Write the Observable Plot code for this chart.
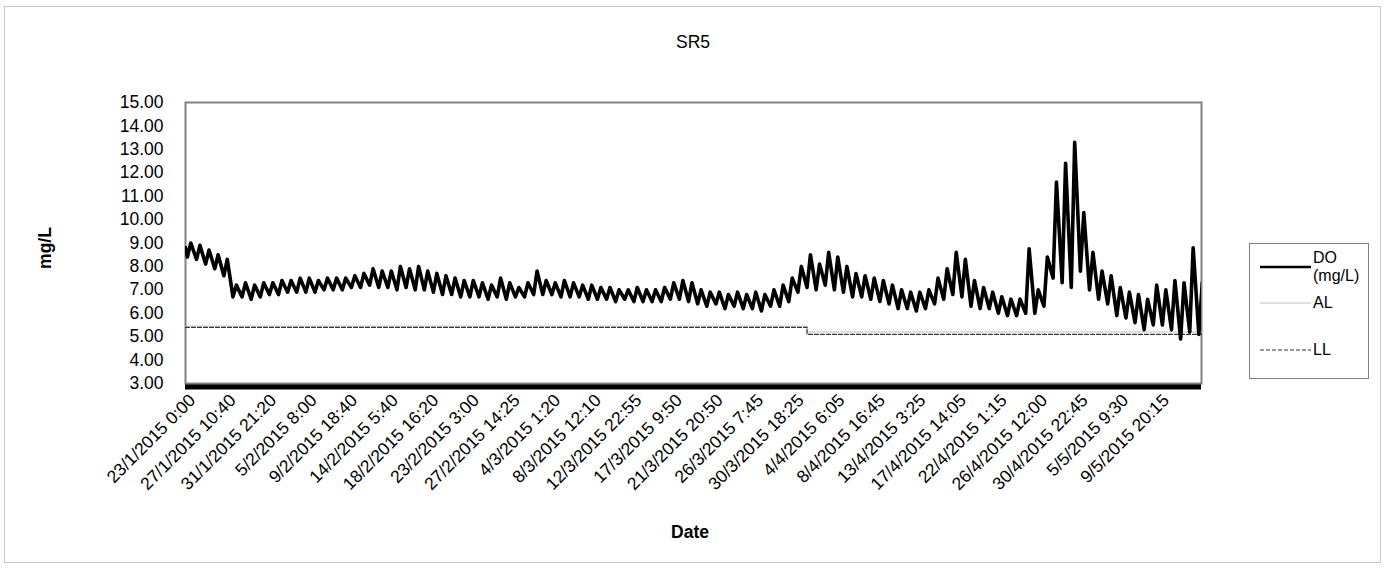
<!DOCTYPE html>
<html>
<head>
<meta charset="utf-8">
<script src="https://cdn.jsdelivr.net/npm/d3@7"></script>
<script src="https://cdn.jsdelivr.net/npm/@observablehq/plot@0.6"></script>
<style>
  body { margin: 0; background: #fff; font-family: "Liberation Sans", Arial, sans-serif; }
  #wrap { position: relative; width: 1386px; height: 569px; overflow: hidden; background: #fff; }
  #outer { position: absolute; left: 4px; top: 6px; width: 1377px; height: 557px; border: 1px solid #c8c8c8; box-sizing: border-box; }
  #chart { position: absolute; left: 0; top: 0; }
  .txt { position: absolute; white-space: nowrap; color: #000; font-size: 17.5px; }
  #title { left: 693px; top: 42px; transform: translate(-50%, -50%); }
  #xlab { left: 690px; top: 532px; transform: translate(-50%, -50%); font-weight: bold; }
  #ylab { left: 45px; top: 248px; transform: translate(-50%, -50%) rotate(-90deg); font-weight: bold; }
  #legend { position: absolute; left: 1249px; top: 243px; width: 120px; height: 136px; border: 1px solid #808080; box-sizing: border-box; background: #fff; }
  #legend svg { position: absolute; left: 0; top: 0; }
  #legend .txt { font-size: 16px; }
</style>
</head>
<body>
<div id="wrap">
  <div id="outer"></div>
  <div id="chart"></div>
  <div class="txt" id="title">SR5</div>
  <div class="txt" id="xlab">Date</div>
  <div class="txt" id="ylab">mg/L</div>
  <div id="legend"></div>
</div>
<script>
// ---- Data ----
const seriesTitle = "SR5";
const startDay = "2015-01-23";
const endTime = "2015-05-14T12:00:00Z";

// Daily high and low dissolved oxygen (mg/L), one entry per day from 23/1/2015
const dailyHigh = [
  9.0, 8.9, 8.7, 8.5, 8.3,
  7.2, 7.3, 7.2, 7.3, 7.3, 7.4,
  7.4, 7.5, 7.5, 7.4, 7.5, 7.5, 7.5,
  7.6, 7.7, 7.9, 7.8,
  7.8, 8.0, 7.9, 8.0, 7.8,
  7.7, 7.6, 7.5, 7.4, 7.4,
  7.3, 7.2, 7.5,
  7.3, 7.1, 7.3,
  7.8,
  7.4, 7.3, 7.4, 7.3, 7.2, 7.2, 7.1,
  7.1, 7.0, 7.0, 7.1, 7.0, 7.0, 7.1,
  7.3, 7.4, 7.3,
  7.0, 6.9, 6.9, 6.8, 6.9, 6.8, 6.9, 6.8,
  7.0, 7.2, 7.5,
  8.0, 8.5, 8.1, 8.6,
  8.4, 8.0,
  7.7, 7.6, 7.5, 7.4, 7.2,
  7.0, 6.9, 6.9, 7.0,
  7.5, 7.9,
  8.6, 8.3,
  7.4, 7.1, 6.9,
  6.7, 6.6, 6.6,
  8.75, 7.0, 8.4, 11.6, 12.4, 13.3, 10.3, 8.6,
  7.8, 7.6,
  7.1, 6.9, 6.8, 6.6,
  7.2, 7.0, 7.4, 7.3,
  8.8, 7.3
];
const dailyLow = [
  8.4, 8.3, 8.1, 7.9, 7.6,
  6.7, 6.7, 6.6, 6.7, 6.8, 6.8,
  6.9, 6.9, 6.9, 6.9, 7.0, 7.0, 7.0,
  7.1, 7.1, 7.2, 7.1,
  7.1, 7.0, 7.1, 7.0, 7.0,
  6.9, 6.8, 6.8, 6.7, 6.7,
  6.7, 6.6, 6.7,
  6.6, 6.7, 6.7,
  6.8,
  6.8, 6.8, 6.7, 6.7, 6.7, 6.6, 6.6,
  6.6, 6.5, 6.6, 6.5, 6.5, 6.5, 6.5,
  6.6, 6.6, 6.5,
  6.4, 6.3, 6.4, 6.2, 6.3, 6.2, 6.2, 6.1,
  6.3, 6.3, 6.5,
  6.9, 7.1, 7.0, 7.2,
  7.0, 6.9,
  6.7, 6.7, 6.6, 6.5, 6.4,
  6.2, 6.2, 6.1, 6.2,
  6.4, 6.6,
  6.8, 6.7,
  6.3, 6.2, 6.2,
  6.0, 5.9, 5.9,
  6.0, 6.0, 6.3, 7.5, 7.3, 7.1, 7.8, 7.0,
  6.6, 6.4,
  5.9, 5.8, 5.6, 5.3,
  5.5, 5.5, 5.3, 4.9,
  5.2, 5.1
];

// Guideline levels
const limitTimes = ["2015-01-23T00:00:00Z", "2015-04-01T05:00:00Z", "2015-05-14T12:00:00Z"];
const llValues = [5.4, 5.1, 5.1];
const alValues = [5.45, 5.2, 5.2];

// Axis tick labels
const xTickLabels = [
  "23/1/2015 0:00", "27/1/2015 10:40", "31/1/2015 21:20", "5/2/2015 8:00", "9/2/2015 18:40",
  "14/2/2015 5:40", "18/2/2015 16:20", "23/2/2015 3:00", "27/2/2015 14:25", "4/3/2015 1:20",
  "8/3/2015 12:10", "12/3/2015 22:55", "17/3/2015 9:50", "21/3/2015 20:50", "26/3/2015 7:45",
  "30/3/2015 18:25", "4/4/2015 6:05", "8/4/2015 16:45", "13/4/2015 3:25", "17/4/2015 14:05",
  "22/4/2015 1:15", "26/4/2015 12:00", "30/4/2015 22:45", "5/5/2015 9:30", "9/5/2015 20:15"
];
const yTicks = [3, 4, 5, 6, 7, 8, 9, 10, 11, 12, 13, 14, 15];
const legendLabels = ["DO", "(mg/L)", "AL", "LL"];

// ---- Build tables ----
const start = new Date(startDay + "T00:00:00Z");
const end = new Date(endTime);
const doData = [];
dailyLow.forEach((v, i) => {
  const day = d3.utcDay.offset(start, i);
  doData.push({ date: d3.utcHour.offset(day, 5), value: v });
  doData.push({ date: d3.utcHour.offset(day, 14), value: dailyHigh[i] });
});
doData.unshift({ date: start, value: dailyHigh[0] - 0.2 });

const parse = d3.utcParse("%d/%m/%Y %H:%M");
const xTickDates = xTickLabels.map(parse);
const labelByTime = new Map(xTickDates.map((d, i) => [+d, xTickLabels[i]]));

const ll = limitTimes.map((t, i) => ({ date: new Date(t), value: llValues[i] }));
const al = limitTimes.map((t, i) => ({ date: new Date(t), value: alValues[i] }));

const chart = Plot.plot({
  width: 1386,
  height: 569,
  marginLeft: 185,
  marginRight: 185,
  marginTop: 102,
  marginBottom: 186,
  style: { fontFamily: '"Liberation Sans", Arial, sans-serif', fontSize: "17.5px", color: "#000", background: "transparent", overflow: "visible" },
  x: { type: "utc", domain: [start, end] },
  y: { domain: [3, 15] },
  marks: [
    Plot.ruleY([3], { stroke: "#000", strokeWidth: 6, dy: 3 }),
    Plot.frame({ stroke: "#808080", strokeWidth: 2 }),
    Plot.axisY({ ticks: yTicks, tickFormat: d => d.toFixed(2), tickSize: 0, tickPadding: 22, label: null, fontSize: 17.5 }),
    Plot.axisX({ ticks: xTickDates, tickFormat: d => labelByTime.get(+d), tickRotate: -45, tickSize: 0, tickPadding: 10, dx: 7, dy: 4, label: null, fontSize: 17.5 }),
    Plot.line(al, { x: "date", y: "value", curve: "step-after", stroke: "#c0c0c0", strokeWidth: 1 }),
    Plot.line(ll, { x: "date", y: "value", curve: "step-after", stroke: "#333", strokeWidth: 1.2, strokeDasharray: "4,2" }),
    Plot.line(doData, { x: "date", y: "value", stroke: "#000", strokeWidth: 3.6, strokeLinejoin: "round", clip: true })
  ]
});
document.getElementById("chart").appendChild(chart);
document.getElementById("title").textContent = seriesTitle;

// Legend
const lg = document.getElementById("legend");
lg.innerHTML = `
<svg width="120" height="136">
  <line x1="10" x2="61" y1="23" y2="23" stroke="#000" stroke-width="2.6"/>
  <line x1="10" x2="61" y1="59" y2="59" stroke="#c0c0c0" stroke-width="1"/>
  <line x1="10" x2="61" y1="106" y2="106" stroke="#333" stroke-width="1" stroke-dasharray="4,2"/>
</svg>
<div class="txt" style="left:63px;top:5px">${legendLabels[0]}</div>
<div class="txt" style="left:63px;top:23px">${legendLabels[1]}</div>
<div class="txt" style="left:63px;top:50px">${legendLabels[2]}</div>
<div class="txt" style="left:63px;top:97px">${legendLabels[3]}</div>
`;
</script>
</body>
</html>
